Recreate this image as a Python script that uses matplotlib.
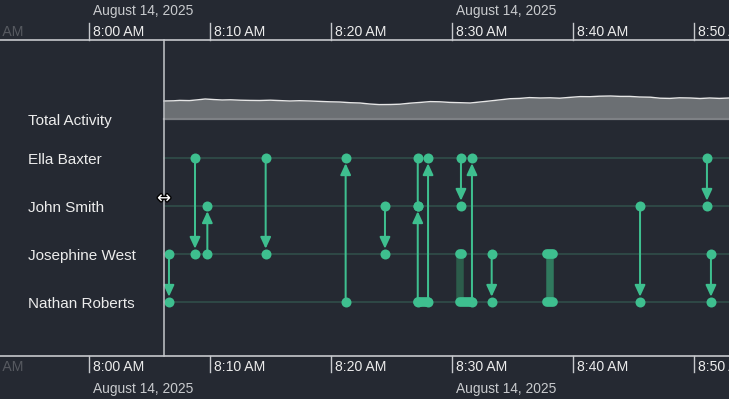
import matplotlib
matplotlib.use("Agg")
import matplotlib.pyplot as plt
import matplotlib.transforms as mtransforms
import matplotlib.patheffects as pe
import numpy as np

plt.rcParams['font.family'] = ['Liberation Sans', 'DejaVu Sans']

# ---------------- data ----------------
rows = ['Ella Baxter', 'John Smith', 'Josephine West', 'Nathan Roberts']
activity_label = 'Total Activity'

# time axis (minutes after 8:00 AM)
tick_minutes = [-10, 0, 10, 20, 30, 40, 50]
tick_labels = ['7:50 AM', '8:00 AM', '8:10 AM', '8:20 AM', '8:30 AM', '8:40 AM', '8:50 AM']
date_minutes = [0, 30]
date_labels = ['August 14, 2025', 'August 14, 2025']
cursor_minute = 6.2

# total activity samples
activity_t = [6.2, 7.0, 7.5, 8.3, 9.0, 9.6, 10.4, 11.0, 11.7, 12.5, 13.3, 14.1, 15.0, 15.8,
              16.6, 17.4, 18.3, 19.1, 19.9, 20.7, 21.6, 22.4, 23.2, 24.0, 24.9, 25.7, 26.5,
              27.4, 28.2, 29.0, 29.8, 30.7, 31.5, 32.3, 33.1, 34.0, 34.8, 35.6, 36.4, 37.3,
              38.1, 38.9, 39.7, 40.6, 41.4, 42.2, 43.1, 43.9, 44.7, 45.5, 46.4, 47.2, 48.0,
              48.8, 49.7, 50.5, 51.3, 52.1, 52.9]
activity_v = [18.0, 18.2, 18.6, 18.4, 19.2, 20.0, 19.4, 19.0, 19.2, 18.8, 18.6, 18.5, 18.8, 18.4,
              18.0, 18.3, 18.0, 17.6, 17.2, 17.0, 16.3, 16.0, 15.0, 14.4, 14.5, 14.8, 15.8,
              16.6, 17.4, 17.2, 16.6, 16.3, 16.0, 17.0, 18.0, 19.2, 20.3, 20.6, 21.4, 21.0,
              21.2, 20.8, 21.6, 22.4, 22.3, 22.8, 23.0, 22.6, 22.6, 22.0, 21.8, 20.8, 20.6,
              21.2, 21.0, 20.5, 21.0, 20.6, 21.0]

# links between people (minute, from, to, directed)
link_t = [6.61, 8.76, 9.78, 14.60, 21.21, 24.46, 27.17, 27.17, 28.02, 30.74, 31.65,
          33.28, 45.54, 51.07, 51.40]
link_from = ['Josephine West', 'Ella Baxter', 'Josephine West', 'Ella Baxter', 'Nathan Roberts',
             'John Smith', 'Ella Baxter', 'Nathan Roberts', 'Nathan Roberts', 'Ella Baxter',
             'Nathan Roberts', 'Josephine West', 'John Smith', 'Ella Baxter', 'Josephine West']
link_to = ['Nathan Roberts', 'Josephine West', 'John Smith', 'Josephine West', 'Ella Baxter',
           'Josephine West', 'John Smith', 'John Smith', 'Ella Baxter', 'John Smith',
           'Ella Baxter', 'Nathan Roberts', 'Nathan Roberts', 'John Smith', 'Nathan Roberts']
link_directed = [True, True, True, True, True, True, False, True, True, True, True,
                 True, True, True, True]

# sustained connections (minute, from, to)
span_t = [30.70, 38.10]
span_from = ['Josephine West', 'Josephine West']
span_to = ['Nathan Roberts', 'Nathan Roberts']
span_colors = ['#2c5c4b', '#30795e']

# event clusters drawn as pills (row, start, end)
cluster_row = ['Nathan Roberts', 'Nathan Roberts', 'Josephine West', 'Josephine West', 'Nathan Roberts']
cluster_start = [27.17, 30.62, 30.62, 37.86, 37.86]
cluster_end = [28.02, 31.65, 30.84, 38.33, 38.33]

# ---------------- style ----------------
BG = '#252932'
GREEN = '#3ebf8f'
ROWLINE = '#2f4b48'
AXIS = '#c6c8cc'
TEXT = '#ececec'
DATE = '#c9cbce'

W, H = 729, 399
PX_PER_MIN = 12.1
X_ORIGIN_PX = 89
ROW_PX = 48
ROW1_PX = 158


def ry(px):
    return (px - (ROW1_PX - ROW_PX)) / ROW_PX


fig = plt.figure(figsize=(W / 100, H / 100), dpi=100, facecolor=BG)
ax = fig.add_axes([0, 0, 1, 1])
ax.set_facecolor(BG)
ax.axis('off')
ax.set_xlim(-X_ORIGIN_PX / PX_PER_MIN, (W - X_ORIGIN_PX) / PX_PER_MIN)
ax.set_ylim(ry(H), ry(0))
xmax = (W - X_ORIGIN_PX) / PX_PER_MIN

row_y = {name: i + 1 for i, name in enumerate(rows)}

# axis lines
top_axis, bot_axis = ry(40), ry(356)
ax.axhline(top_axis, color=AXIS, lw=1.2, zorder=5)
ax.axhline(bot_axis, color=AXIS, lw=1.2, zorder=5)

off = mtransforms.offset_copy(ax.transData, fig=fig, x=4, y=0, units='dots')
for m, lab in zip(tick_minutes, tick_labels):
    alpha = 0.25 if m < cursor_minute - 15 else 1.0
    ax.plot([m, m], [ry(23), top_axis], color=AXIS, lw=1, alpha=alpha, clip_on=False)
    ax.plot([m, m], [bot_axis, ry(372)], color=AXIS, lw=1, alpha=alpha, clip_on=False)
    ax.text(m, ry(31.5), lab, transform=off, ha='left', va='center', fontsize=10.1,
            color=TEXT, alpha=alpha, clip_on=False)
    ax.text(m, ry(367), lab, transform=off, ha='left', va='center', fontsize=10.1,
            color=TEXT, alpha=alpha, clip_on=False)
for m, lab in zip(date_minutes, date_labels):
    ax.text(m, ry(11), lab, transform=off, ha='left', va='center', fontsize=9.9, color=DATE)
    ax.text(m, ry(389), lab, transform=off, ha='left', va='center', fontsize=9.9, color=DATE)

# cursor line
ax.plot([cursor_minute, cursor_minute], [top_axis, bot_axis], color='#c4c6ca', lw=1.1, zorder=6)
ax.text(cursor_minute, ry(198), '\u2194', ha='center', va='center', fontsize=12,
        color='white', family='DejaVu Sans', zorder=7,
        path_effects=[pe.withStroke(linewidth=2, foreground='black')])

# row labels
ylab = mtransforms.offset_copy(ax.get_yaxis_transform(), fig=fig, x=0, y=-1.5, units='dots')
ax.text(28 / W, ry(119), activity_label, transform=ylab, ha='left', va='center',
        fontsize=11, color=TEXT)
for name in rows:
    ax.text(28 / W, row_y[name], name, transform=ylab, ha='left', va='center',
            fontsize=11, color=TEXT)

# total activity band
base = ry(119)
at = np.array(activity_t)
av = np.array(activity_v) / ROW_PX
ax.fill_between(at, base, base - av, color='#6b6f73', lw=0, zorder=2)
ax.plot(at, base - av, color='#e6e6e6', lw=1.0, zorder=3)
ax.plot([cursor_minute, xmax], [base, base], color='#7e8185', lw=1.6, zorder=3)

# row lines
for name in rows:
    ax.plot([cursor_minute, xmax], [row_y[name]] * 2, color=ROWLINE, lw=1.3, zorder=1)

# sustained spans
for t, a, b, c in zip(span_t, span_from, span_to, span_colors):
    ax.plot([t, t], [row_y[a], row_y[b]], color=c, lw=5.4, solid_capstyle='butt', zorder=2)

# links
for t, a, b, d in zip(link_t, link_from, link_to, link_directed):
    style = '-|>,head_length=0.65,head_width=0.3' if d else '-'
    ax.annotate('', xy=(t, row_y[b]), xytext=(t, row_y[a]),
                arrowprops=dict(arrowstyle=style, mutation_scale=10.5, color=GREEN,
                                lw=1.45, shrinkA=0, shrinkB=3.8 if d else 0),
                zorder=3)
    ax.plot([t, t], [row_y[a], row_y[b]], ls='none', marker='o', ms=7.2,
            color=GREEN, mec='none', zorder=4)

# clusters
for r, s, e in zip(cluster_row, cluster_start, cluster_end):
    ax.plot([s, e], [row_y[r]] * 2, color=GREEN, lw=7.0, solid_capstyle='round', zorder=4)

fig.savefig('out.png', dpi=100, facecolor=BG)
